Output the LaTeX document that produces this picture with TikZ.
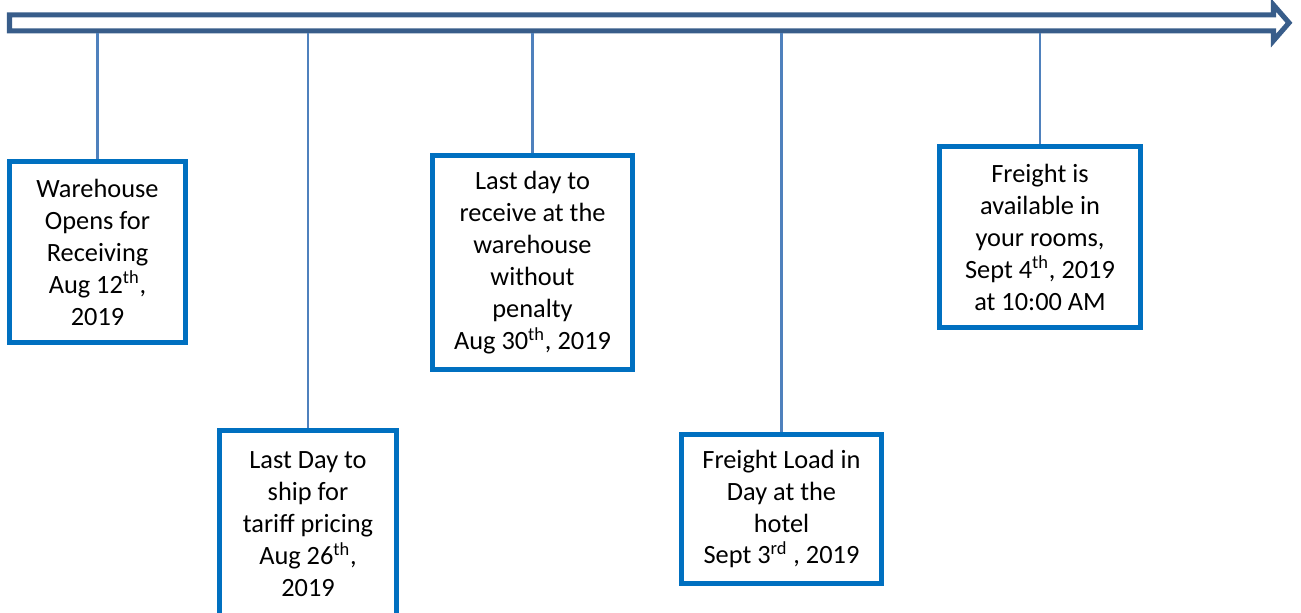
\documentclass[tikz,border=0pt]{standalone}
\usepackage{fontspec}
\setmainfont{Carlito}
\usepackage{xcolor}
\usetikzlibrary{calc}
\usetikzlibrary{positioning}

\definecolor{axisblue}{RGB}{56,93,138}
\definecolor{linkblue}{RGB}{79,129,189}
\definecolor{boxblue}{RGB}{0,112,192}

\tikzset{
  event/.style={draw=boxblue, line width=2.8pt, fill=white, inner sep=0pt,
    align=center, font=\fontsize{15}{18.2}\selectfont},
  link/.style={draw=linkblue, line width=1.2pt}
}

\begin{document}
\begin{tikzpicture}[x=0.02cm, y=-0.02cm]
    \useasboundingbox (0,0) rectangle (1301,612);

    % time line
    \draw [axisblue, line width=2.9pt, line join=miter]
      (9.5,14.8) -- (1273.5,14.8) -- (1273.5,5) -- (1289,22.8) -- (1273.5,40.6)
      -- (1273.5,30.8) -- (9.5,30.8) -- cycle;

    \coordinate (t1) at (97.5,33);
    \coordinate (t2) at (308,33);
    \coordinate (t3) at (532.5,33);
    \coordinate (t4) at (781.5,33);
    \coordinate (t5) at (1040,33);

    % events
    \node [event, minimum width=3.52cm, minimum height=3.62cm] (e1) at (97.5,252)
      {Warehouse\\Opens for\\Receiving\\Aug 12\textsuperscript{th},\\2019};
    \node [event, minimum width=3.54cm, minimum height=3.74cm] (e2) at (308,524)
      {Last Day to\\ship for\\tariff pricing\\Aug 26\textsuperscript{th},\\2019};
    \node [event, minimum width=4.0cm, minimum height=4.28cm] (e3) at (532.5,262.5)
      {Last day to\\receive at the\\warehouse\\without\\penalty\\Aug 30\textsuperscript{th}, 2019};
    \node [event, minimum width=4.0cm, minimum height=2.98cm] (e4) at (781.5,509)
      {Freight Load in\\Day at the\\hotel\\Sept 3\textsuperscript{rd} , 2019};
    \node [event, minimum width=4.02cm, minimum height=3.62cm] (e5) at (1040,237)
      {Freight is\\available in\\your rooms,\\Sept 4\textsuperscript{th}, 2019\\at 10:00 AM};

    % links to the time line
    \draw [link] (t1) -- (e1.north);
    \draw [link] (t2) -- (e2.north);
    \draw [link] (t3) -- (e3.north);
    \draw [link] (t4) -- (e4.north);
    \draw [link] (t5) -- (e5.north);
\end{tikzpicture}
\end{document}
